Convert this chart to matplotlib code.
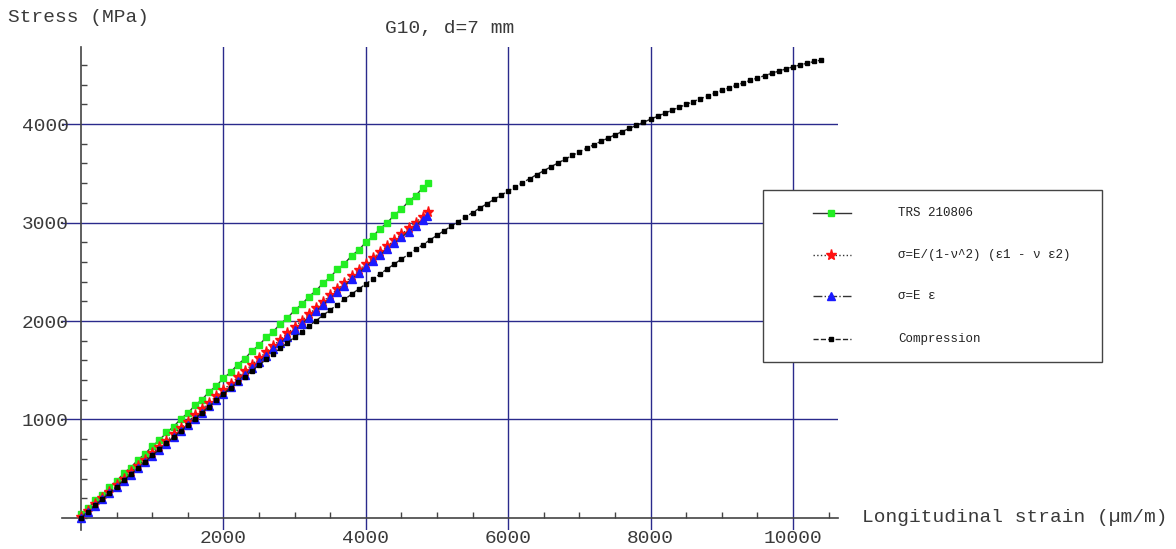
import matplotlib
matplotlib.use('Agg')
import matplotlib.pyplot as plt
from matplotlib.lines import Line2D
from matplotlib.patches import Rectangle
from matplotlib.ticker import MultipleLocator

plt.rcParams['font.family'] = ['Liberation Mono', 'DejaVu Sans Mono']

# --- data (strain in um/m, stress in MPa) ---
strain_trs = list(range(0, 4900, 100)) + [4880]
stress_trs = [40, 98, 178, 236, 316, 374, 454, 512, 592, 650,
              730, 788, 868, 926, 1006, 1064, 1144, 1202, 1282, 1340,
              1420, 1478, 1558, 1616, 1696, 1754, 1834, 1892, 1972, 2030,
              2110, 2168, 2248, 2306, 2386, 2444, 2524, 2582, 2662, 2720,
              2800, 2858, 2938, 2996, 3076, 3134, 3214, 3272, 3352, 3400]

strain_biax = list(range(0, 4900, 100)) + [4880]
stress_biax = [10, 75, 139, 204, 268, 333, 397, 462, 526, 591,
               655, 720, 784, 849, 913, 978, 1042, 1107, 1171, 1236,
               1300, 1364, 1428, 1492, 1556, 1620, 1684, 1748, 1812, 1876,
               1940, 2004, 2068, 2132, 2196, 2260, 2324, 2388, 2452, 2516,
               2580, 2640, 2700, 2760, 2820, 2880, 2940, 3000, 3060, 3108]

strain_uni = list(range(0, 4900, 100)) + [4860]
stress_uni = [0, 63, 126, 189, 252, 315, 378, 441, 504, 567,
              630, 693, 756, 819, 882, 945, 1008, 1071, 1134, 1197,
              1260, 1325, 1389, 1454, 1518, 1583, 1648, 1712, 1777, 1841,
              1906, 1971, 2035, 2100, 2164, 2229, 2294, 2358, 2423, 2487,
              2552, 2611, 2671, 2730, 2790, 2849, 2908, 2968, 3027, 3062]

strain_comp = list(range(0, 10500, 100))
stress_comp = [0, 64, 128, 191, 255, 318, 382, 445, 508, 572,
               635, 697, 759, 821, 883, 945, 1007, 1069, 1131, 1193,
               1255, 1316, 1376, 1435, 1494, 1552, 1610, 1667, 1724, 1780,
               1836, 1892, 1948, 2003, 2058, 2112, 2166, 2219, 2272, 2324,
               2376, 2427, 2478, 2528, 2578, 2628, 2677, 2726, 2774, 2822,
               2870, 2917, 2964, 3010, 3056, 3101, 3146, 3190, 3234, 3277,
               3320, 3362, 3404, 3445, 3486, 3526, 3566, 3605, 3643, 3681,
               3718, 3754, 3789, 3823, 3857, 3890, 3923, 3955, 3987, 4018,
               4049, 4080, 4110, 4140, 4170, 4199, 4228, 4257, 4285, 4313,
               4341, 4367, 4393, 4418, 4443, 4467, 4491, 4514, 4537, 4559,
               4581, 4600, 4618, 4635, 4650]

labels = ['TRS 210806', 'σ=E/(1-ν^2) (ε1 - ν ε2)', 'σ=E ε', 'Compression']

styles = [
    dict(color='#333333', lw=1, ls='-', marker='s', ms=4.2, mfc='#22ee22', mec='#22ee22'),
    dict(color='#333333', lw=1, ls=':', marker='*', ms=8, mfc='#ff1010', mec='#ff1010'),
    dict(color='#333333', lw=1, ls='-.', marker='^', ms=5.5, mfc='#1a1aff', mec='#1a1aff'),
    dict(color='#222222', lw=1, ls='--', marker='s', ms=3.3, mfc='black', mec='black'),
]

W, H = 1176, 549
fig = plt.figure(figsize=(W / 100, H / 100), dpi=100)
ax = fig.add_axes([62 / W, 1 - 530 / H, (838 - 62) / W, (530 - 47) / H])

series = [(strain_trs, stress_trs), (strain_biax, stress_biax),
          (strain_uni, stress_uni), (strain_comp, stress_comp)]
for (xs, ys), st in zip(series, styles):
    ax.plot(xs, ys, zorder=3, **st)

ax.set_xlim(-267, 10632)
ax.set_ylim(-122, 4782)

for s in ['top', 'right']:
    ax.spines[s].set_visible(False)
for s in ['left', 'bottom']:
    ax.spines[s].set_position(('data', 0))
    ax.spines[s].set_color('#444444')
    ax.spines[s].set_linewidth(1.2)
    ax.spines[s].set_zorder(2.5)

ax.set_xticks([2000, 4000, 6000, 8000, 10000])
ax.set_yticks([1000, 2000, 3000, 4000])
ax.xaxis.set_minor_locator(MultipleLocator(500))
ax.yaxis.set_minor_locator(MultipleLocator(200))
ax.grid(True, which='major', color='#2a2a8c', lw=1, zorder=1)
ax.tick_params(which='major', length=0, labelsize=14, labelcolor='#3a3a3a')
ax.tick_params(axis='x', which='major', pad=9)
ax.tick_params(axis='y', which='major', pad=9)
ax.tick_params(which='minor', direction='in', length=4, width=1, color='#444444')

txt = dict(fontsize=14, color='#3a3a3a', va='center')
fig.text(8 / W, 1 - 18 / H, 'Stress (MPa)', ha='left', **txt)
fig.text(450 / W, 1 - 28 / H, 'G10, d=7 mm', ha='center', **txt)
fig.text(862 / W, 1 - 518 / H, 'Longitudinal strain (µm/m)', ha='left', **txt)

# legend box drawn by hand to match the layout
fig.add_artist(Rectangle((763 / W, 1 - 362 / H), (1102 - 763) / W, (362 - 190) / H,
                         transform=fig.transFigure, fc='white', ec='#444444', lw=1))
rows = [213, 255, 296, 339]
for py, lab, st in zip(rows, labels, styles):
    fy = 1 - py / H
    fig.add_artist(Line2D([813 / W, 831 / W, 851 / W], [fy, fy, fy],
                          transform=fig.transFigure, markevery=[1], **st))
    fig.text(898 / W, fy, lab, ha='left', va='center', fontsize=9, color='#222222')

fig.savefig('out.png', dpi=100)
